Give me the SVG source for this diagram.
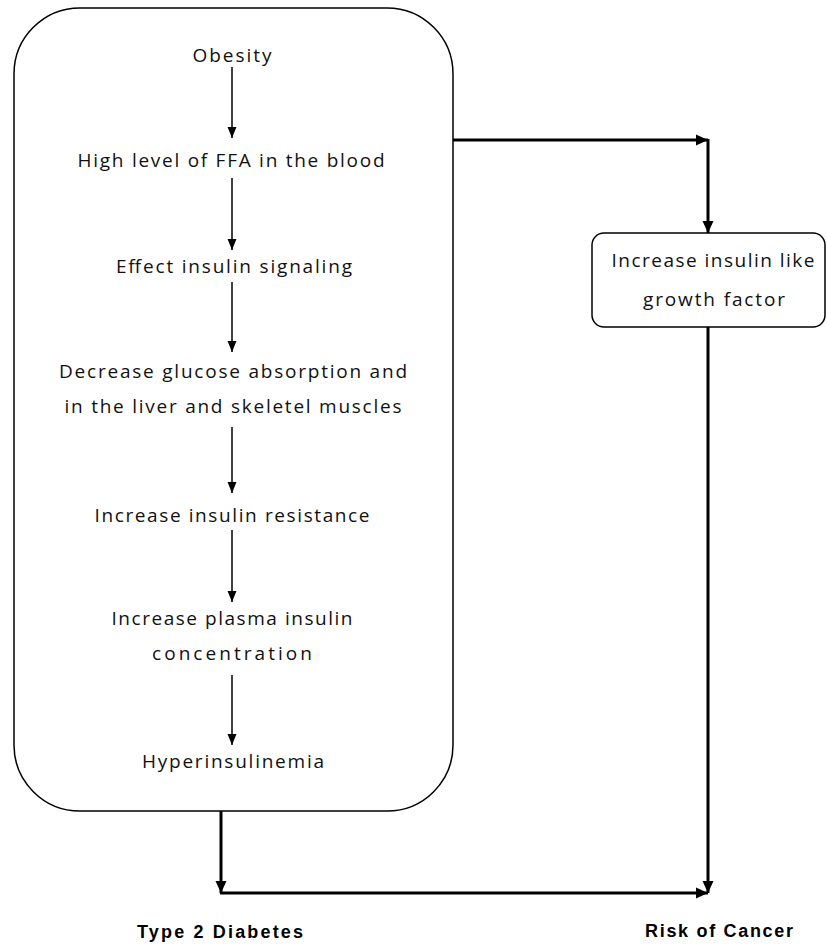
<svg xmlns="http://www.w3.org/2000/svg" width="827" height="944" viewBox="0 0 827 944">
<style>
.box{fill:#fff;stroke:#000;stroke-width:1.5}
.t{font-family:"Open Sans","Liberation Sans",Arial,sans-serif;font-size:19px;fill:#111;text-anchor:middle}
.b{font-family:"Liberation Sans",Arial,sans-serif;font-size:18px;font-weight:bold;fill:#000;text-anchor:middle}
.in{stroke:#000;stroke-width:1.5;fill:none}
.out{stroke:#000;stroke-width:3;fill:none}
</style>
<defs>
<marker id="ah" markerUnits="userSpaceOnUse" markerWidth="12" markerHeight="12" viewBox="0 0 12 12" refX="11" refY="6" orient="auto">
<path d="M0,1.5 L11,6 L0,10.5 Z" fill="#000"/>
</marker>
<marker id="ahb" markerUnits="userSpaceOnUse" markerWidth="14" markerHeight="14" viewBox="0 0 14 14" refX="12" refY="7" orient="auto">
<path d="M0,1.5 L12,7 L0,12.5 Z" fill="#000"/>
</marker>
</defs>
<g id="main-box">
<rect class="box" x="14" y="8" width="439" height="803" rx="66" ry="66"/>
<g id="obesity"><text class="t" x="232" y="62" textLength="79" lengthAdjust="spacing">Obesity</text></g>
<g id="ffa"><text class="t" x="231" y="167" textLength="307" lengthAdjust="spacing">High level of FFA in the blood</text></g>
<g id="signaling"><text class="t" x="234" y="273" textLength="236" lengthAdjust="spacing">Effect insulin signaling</text></g>
<g id="glucose"><text class="t" x="233" y="378" textLength="348" lengthAdjust="spacing">Decrease glucose absorption and</text><text class="t" x="233" y="413" textLength="337" lengthAdjust="spacing">in the liver and skeletel muscles</text></g>
<g id="resistance"><text class="t" x="232" y="522" textLength="275" lengthAdjust="spacing">Increase insulin resistance</text></g>
<g id="plasma"><text class="t" x="232" y="625" textLength="241" lengthAdjust="spacing">Increase plasma insulin</text><text class="t" x="232" y="660" textLength="160" lengthAdjust="spacing">concentration</text></g>
<g id="hyper"><text class="t" x="233" y="768" textLength="182" lengthAdjust="spacing">Hyperinsulinemia</text></g>
</g>
<g id="igf">
<rect class="box" x="592" y="233" width="233" height="94" rx="12" ry="12"/>
<text class="t" x="713" y="267" textLength="203" lengthAdjust="spacing">Increase insulin like</text>
<text class="t" x="714" y="306" textLength="142" lengthAdjust="spacing">growth factor</text>
</g>
<g id="diabetes"><text class="b" x="220" y="938" textLength="166" lengthAdjust="spacing">Type 2 Diabetes</text></g>
<g id="cancer"><text class="b" x="719" y="937" textLength="148" lengthAdjust="spacing">Risk of Cancer</text></g>
<g id="connectors">
<line class="in" x1="232" y1="67" x2="232" y2="138" marker-end="url(#ah)"/>
<line class="in" x1="232" y1="178" x2="232" y2="250" marker-end="url(#ah)"/>
<line class="in" x1="232" y1="282" x2="232" y2="352" marker-end="url(#ah)"/>
<line class="in" x1="232" y1="427" x2="232" y2="493" marker-end="url(#ah)"/>
<line class="in" x1="232" y1="530" x2="232" y2="602" marker-end="url(#ah)"/>
<line class="in" x1="232" y1="675" x2="232" y2="745" marker-end="url(#ah)"/>
<line class="out" x1="453" y1="140" x2="708" y2="140" marker-end="url(#ahb)"/>
<line class="out" x1="708" y1="139" x2="708" y2="233" marker-end="url(#ahb)"/>
<line class="out" x1="708" y1="327" x2="708" y2="893" marker-end="url(#ahb)"/>
<line class="out" x1="221" y1="811" x2="221" y2="893" marker-end="url(#ahb)"/>
<line class="out" x1="220" y1="893" x2="708" y2="893" marker-end="url(#ahb)"/>
</g>
</svg>
